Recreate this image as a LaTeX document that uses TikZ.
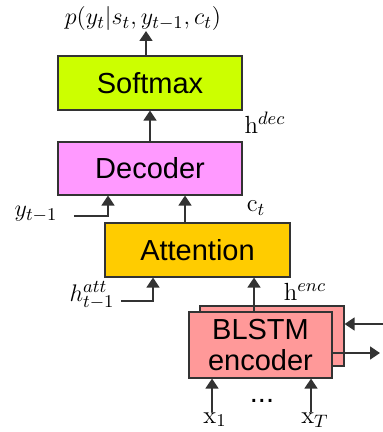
\documentclass[tikz,border=0pt]{standalone}
\usepackage{fontspec}
\newfontfamily\boxfont{Liberation Sans}
\usetikzlibrary{arrows.meta}

\tikzset{
  block/.style={draw=black!80, line width=0.6pt, inner sep=0pt, align=center,
    font=\fontsize{14.5}{15.5}\selectfont\boxfont},
  arr/.style={draw=black!80, line width=0.7pt, -{Triangle[width=6.5pt,length=5pt]}},
  lab/.style={inner sep=0pt, font=\fontsize{12.4}{14}\selectfont}
}

\begin{document}
\begin{tikzpicture}[x=0.5pt,y=-0.5pt]
		\useasboundingbox (0,0) rectangle (383,432);
		%Blocks
		\node[block, fill={rgb,255:red,204;green,255;blue,0}, minimum width=92pt, minimum height=27pt] (softmax) at (150,83) {Softmax};
		\node[block, fill={rgb,255:red,255;green,153;blue,255}, minimum width=92pt, minimum height=26.5pt] (decoder) at (150,168.5) {Decoder};
		\node[block, fill={rgb,255:red,255;green,204;blue,0}, minimum width=92.5pt, minimum height=27pt] (attention) at (197.5,250) {Attention};
		\node[block, fill={rgb,255:red,255;green,153;blue,153}, minimum width=72pt, minimum height=30pt] (encback) at (272,336) {};
		\node[block, fill={rgb,255:red,255;green,153;blue,153}, minimum width=71.5pt, minimum height=33pt] (encoder) at (260.5,345) {BLSTM\\encoder};
		%Labels
		\node[lab] (prob) at (143,19) {$p(y_t|s_t,y_{t-1},c_t)$};
		\node[lab] (hdec) at (265,123) {$\mathrm{h}^{dec}$};
		\node[lab] (ct) at (256,208) {$\mathrm{c}_t$};
		\node[lab] (yprev) at (36,214) {$y_{t-1}$};
		\node[lab] (hatt) at (92,295) {$h^{att}_{t-1}$};
		\node[lab] (henc) at (305,292) {$\mathrm{h}^{enc}$};
		\node[lab, anchor=north] (xfirst) at (215,412) {$\mathrm{x}_1$};
		\node[lab, anchor=north] (xlast) at (315,412) {$\mathrm{x}_T$};
		\node[lab, font=\fontsize{14.5}{15}\selectfont\boxfont] (dots) at (262,401) {...};
		%Connectors
		\coordinate (pout) at (146,31);
		\draw[arr] (softmax.north -| pout) -- (pout);
		\draw[arr] (decoder.north) -- (softmax.south);
		\draw[arr] (attention.north -| 185,0) -- (decoder.south -| 185,0);
		\draw[arr] ([xshift=8pt]yprev.east |- 0,216) -| (decoder.south -| 108,0);
		\draw[arr] ([xshift=3pt]hatt.east |- 0,301) -| (attention.south -| 153,0);
		\draw[arr] (encoder.north -| 254,0) -- (attention.south -| 254,0);
		\coordinate (rin) at (383,324);
		\coordinate (rout) at (380,353);
		\draw[arr] (rin) -- (encback.east |- rin);
		\draw[arr] (encoder.east |- rout) -- (rout);
		\draw[arr] (xfirst.north -| 212,0) -- (encoder.south -| 212,0);
		\draw[arr] (xlast.north -| 311,0) -- (encoder.south -| 311,0);
\end{tikzpicture}
\end{document}
